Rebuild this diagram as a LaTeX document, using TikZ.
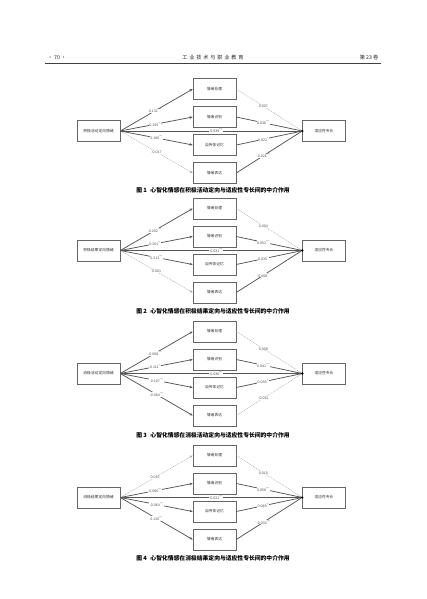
\documentclass[tikz,border=0pt]{standalone}
\usepackage{fontspec}
\usetikzlibrary{arrows.meta}
\newfontfamily\cjk{Noto Sans CJK SC}
\newfontfamily\cjkwide{Noto Sans CJK SC}[LetterSpace=35]
\newfontfamily\numfont{Liberation Sans}
\definecolor{boxgray}{HTML}{666666}
\definecolor{linegray}{HTML}{555555}
\definecolor{nsgray}{HTML}{AAAAAA}
\definecolor{labgray}{HTML}{555555}
\newcommand\st[1]{\textsuperscript{#1}}
\tikzset{
  mybox/.style={draw=boxgray, line width=0.6pt, minimum width=43pt, minimum height=21pt, inner sep=0pt, font=\cjk\fontsize{3.8}{4}\selectfont, text=black!80},
  sigline/.style={draw=linegray, line width=0.75pt},
  nsline/.style={draw=nsgray, line width=0.45pt, dash pattern=on 1pt off 0.8pt},
  arr/.style={-{Stealth[length=3.2pt,width=2.6pt]}},
  lab/.style={font=\numfont\fontsize{3.6}{4}\selectfont, fill=white, inner sep=0.3pt, text=labgray},
  captext/.style={font=\cjk\bfseries\fontsize{5.8}{6}\selectfont},
  hdr/.style={font=\cjk\fontsize{5.2}{6}\selectfont, text=black!85},
  joint/.style={circle, fill=black, inner sep=0pt, minimum size=2.6pt}
}
\begin{document}
\begin{tikzpicture}[x=1pt,y=-1pt]
\useasboundingbox[fill=white] (0,0) rectangle (427,599);
% header
\node[hdr] (h1) at (57,58) {· 70 ·};
\node[hdr, font=\cjkwide\fontsize{5.2}{6}\selectfont] (h2) at (213,58) {工业技术与职业教育};
\node[hdr] (h3) at (369,58) {第 23 卷};
\coordinate (hl) at (45,63.5);
\coordinate (hr) at (381,63.5);
\draw[line width=0.9pt, black!75] (hl) -- (hr);

% ---------- Panel 1 ----------
\begin{scope}[shift={(0,131)}]
\node[mybox] (ax) at (98.5,0) {积极活动定向情绪};
\node[mybox] (am1) at (214.5,-42) {情绪处理};
\node[mybox] (am2) at (214.5,-14) {情绪识别};
\node[mybox] (am3) at (214.5,14) {自传体记忆};
\node[mybox] (am4) at (214.5,42) {情绪表达};
\node[mybox] (ay) at (324,0) {适应性专长};
\node[joint] (ad) at (ay.west) {};
\draw[sigline,arr] (ax.east) -- node[lab,pos=0.48]{0.132\st{***}} (am1.west);
\draw[sigline,arr] (ax.east) -- node[lab,pos=0.48]{0.155\st{**}} (am2.west);
\draw[sigline,arr] (ax.east) -- node[lab,pos=0.5]{0.166\st{***}} (am3.west);
\draw[nsline,arr] (ax.east) -- node[lab,pos=0.5]{-0.017} (am4.west);
\draw[sigline] (ax.east) -- node[lab,pos=0.53]{-0.039\st{***}} (ad);
\draw[nsline] (am1.east) -- node[lab,pos=0.42]{0.007} (ad);
\draw[sigline] (am2.east) -- node[lab,pos=0.42]{0.036\st{***}} (ad);
\draw[sigline] (am3.east) -- node[lab,pos=0.42]{0.022\st{*}} (ad);
\draw[sigline] (am4.east) -- node[lab,pos=0.42]{-0.021\st{***}} (ad);
\end{scope}
\node[captext] (c1) at (213,190) {图 1\hspace{0.6em}心智化情感在积极活动定向与适应性专长间的中介作用};

% ---------- Panel 2 ----------
\begin{scope}[shift={(0,250.5)}]
\node[mybox] (bx) at (98.5,0) {积极结果定向情绪};
\node[mybox] (bm1) at (214.5,-42) {情绪处理};
\node[mybox] (bm2) at (214.5,-14) {情绪识别};
\node[mybox] (bm3) at (214.5,14) {自传体记忆};
\node[mybox] (bm4) at (214.5,42) {情绪表达};
\node[mybox] (by) at (324,0) {适应性专长};
\node[joint] (bd) at (by.west) {};
\draw[sigline,arr] (bx.east) -- node[lab,pos=0.48]{0.202\st{***}} (bm1.west);
\draw[sigline,arr] (bx.east) -- node[lab,pos=0.48]{0.201\st{**}} (bm2.west);
\draw[sigline,arr] (bx.east) -- node[lab,pos=0.5]{0.213\st{***}} (bm3.west);
\draw[nsline,arr] (bx.east) -- node[lab,pos=0.5]{0.001} (bm4.west);
\draw[sigline] (bx.east) -- node[lab,pos=0.53]{-0.031\st{***}} (bd);
\draw[nsline] (bm1.east) -- node[lab,pos=0.42]{0.004} (bd);
\draw[sigline] (bm2.east) -- node[lab,pos=0.42]{0.052\st{***}} (bd);
\draw[sigline] (bm3.east) -- node[lab,pos=0.42]{0.035\st{*}} (bd);
\draw[sigline] (bm4.east) -- node[lab,pos=0.42]{-0.008\st{**}} (bd);
\end{scope}
\node[captext] (c2) at (213,311) {图 2\hspace{0.6em}心智化情感在积极结果定向与适应性专长间的中介作用};

% ---------- Panel 3 ----------
\begin{scope}[shift={(0,373.5)}]
\node[mybox] (cx) at (98.5,0) {消极活动定向情绪};
\node[mybox] (cm1) at (214.5,-42) {情绪处理};
\node[mybox] (cm2) at (214.5,-14) {情绪识别};
\node[mybox] (cm3) at (214.5,14) {自传体记忆};
\node[mybox] (cm4) at (214.5,42) {情绪表达};
\node[mybox] (cy) at (324,0) {适应性专长};
\node[joint] (cd) at (cy.west) {};
\draw[sigline,arr] (cx.east) -- node[lab,pos=0.48]{-0.068\st{***}} (cm1.west);
\draw[sigline,arr] (cx.east) -- node[lab,pos=0.48]{-0.111\st{**}} (cm2.west);
\draw[sigline,arr] (cx.east) -- node[lab,pos=0.5]{-0.107\st{***}} (cm3.west);
\draw[sigline,arr] (cx.east) -- node[lab,pos=0.5]{-0.084\st{***}} (cm4.west);
\draw[sigline] (cx.east) -- node[lab,pos=0.53]{-0.036\st{***}} (cd);
\draw[nsline] (cm1.east) -- node[lab,pos=0.42]{0.008} (cd);
\draw[sigline] (cm2.east) -- node[lab,pos=0.42]{0.041\st{***}} (cd);
\draw[sigline] (cm3.east) -- node[lab,pos=0.42]{0.039\st{**}} (cd);
\draw[nsline] (cm4.east) -- node[lab,pos=0.42]{-0.011} (cd);
\end{scope}
\node[captext] (c3) at (213,435) {图 3\hspace{0.6em}心智化情感在消极活动定向与适应性专长间的中介作用};

% ---------- Panel 4 ----------
\begin{scope}[shift={(0,497.5)}]
\node[mybox] (dx) at (98.5,0) {消极结果定向情绪};
\node[mybox] (dm1) at (214.5,-42) {情绪处理};
\node[mybox] (dm2) at (214.5,-14) {情绪识别};
\node[mybox] (dm3) at (214.5,14) {自传体记忆};
\node[mybox] (dm4) at (214.5,42) {情绪表达};
\node[mybox] (dy) at (324,0) {适应性专长};
\node[joint] (dd) at (dy.west) {};
\draw[nsline,arr] (dx.east) -- node[lab,pos=0.48]{0.015} (dm1.west);
\draw[sigline,arr] (dx.east) -- node[lab,pos=0.48]{-0.066\st{***}} (dm2.west);
\draw[sigline,arr] (dx.east) -- node[lab,pos=0.5]{-0.064\st{***}} (dm3.west);
\draw[sigline,arr] (dx.east) -- node[lab,pos=0.5]{0.120\st{***}} (dm4.west);
\draw[sigline] (dx.east) -- node[lab,pos=0.53]{-0.021\st{***}} (dd);
\draw[nsline] (dm1.east) -- node[lab,pos=0.42]{0.015} (dd);
\draw[sigline] (dm2.east) -- node[lab,pos=0.42]{0.058\st{***}} (dd);
\draw[sigline] (dm3.east) -- node[lab,pos=0.42]{0.049\st{**}} (dd);
\draw[sigline] (dm4.east) -- node[lab,pos=0.42]{-0.032\st{***}} (dd);
\end{scope}
\node[captext] (c4) at (213,558) {图 4\hspace{0.6em}心智化情感在消极结果定向与适应性专长间的中介作用};
\end{tikzpicture}
\end{document}
